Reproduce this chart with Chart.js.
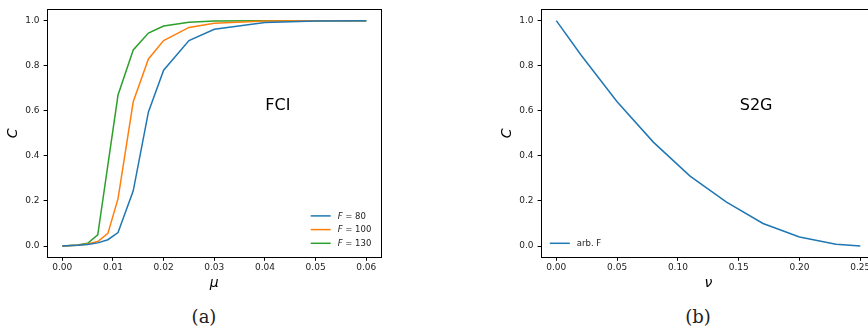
<!DOCTYPE html>
<html>
<head>
<meta charset="utf-8">
<script src="https://cdn.jsdelivr.net/npm/chart.js@4.4.1/dist/chart.umd.min.js"></script>
<style>
  html, body { margin: 0; padding: 0; background: #fff; }
  body { width: 868px; height: 332px; overflow: hidden; position: relative; }
  canvas { position: absolute; top: 0; }
  #cA { left: 0; }
  #cB { left: 494px; }
  .cap { position: absolute; top: 306px; font-family: "DejaVu Serif", serif; font-size: 18px;
         color: #222; transform: translateX(-50%); white-space: nowrap; }
</style>
</head>
<body>
<canvas id="cA" width="400" height="300"></canvas>
<canvas id="cB" width="400" height="300"></canvas>
<div class="cap" style="left:204px">(a)</div>
<div class="cap" style="left:698px">(b)</div>
<script>
// Panel (a): coverage C versus mu for three values of F
const muValues = [0, 0.003, 0.005, 0.007, 0.009, 0.011, 0.014, 0.017, 0.02, 0.025, 0.03, 0.04, 0.05, 0.06];
const cF80  = [0, 0.003, 0.007, 0.014, 0.028, 0.06, 0.245, 0.595, 0.78, 0.912, 0.962, 0.992, 0.998, 1.0];
const cF100 = [0, 0.004, 0.009, 0.02, 0.056, 0.21, 0.64, 0.83, 0.912, 0.97, 0.989, 0.999, 1.0, 1.0];
const cF130 = [0, 0.005, 0.012, 0.05, 0.36, 0.67, 0.87, 0.945, 0.976, 0.993, 0.998, 1.0, 1.0, 1.0];
const fLabels = ['80', '100', '130'];

// Panel (b): coverage C versus nu
const nuValues = [0, 0.02, 0.05, 0.08, 0.11, 0.14, 0.17, 0.2, 0.23, 0.25];
const cArb = [1.0, 0.85, 0.64, 0.46, 0.31, 0.195, 0.10, 0.04, 0.008, 0.0];

// Tick positions
const muTicks = [0, 0.01, 0.02, 0.03, 0.04, 0.05, 0.06];
const nuTicks = [0, 0.05, 0.10, 0.15, 0.20, 0.25];
const cTicks = [0, 0.2, 0.4, 0.6, 0.8, 1.0];

const colors = ['#1f77b4', '#ff7f0e', '#2ca02c'];
const SANS = '"DejaVu Sans", sans-serif';

const toPoints = (xs, ys) => xs.map((x, i) => ({ x: x, y: ys[i] }));

// Frame, inset text and legend drawn over the plot area
const framePlugin = {
  id: 'frameAndLabels',
  afterDraw(chart, args, opts) {
    const { ctx, chartArea: a } = chart;
    ctx.save();
    ctx.strokeStyle = '#000';
    ctx.lineWidth = 1;
    ctx.strokeRect(Math.round(a.left) + 0.5, Math.round(a.top) + 0.5,
                   Math.round(a.right - a.left), Math.round(a.bottom - a.top));

    // panel tag
    ctx.fillStyle = '#000';
    ctx.font = '16px ' + SANS;
    ctx.textAlign = 'center';
    ctx.textBaseline = 'middle';
    ctx.fillText(opts.tag, a.left + opts.tagX * (a.right - a.left), a.top + opts.tagY * (a.bottom - a.top));

    // legend
    ctx.textAlign = 'left';
    opts.legend.forEach((item, i) => {
      const y = a.bottom - opts.legendBottom - (opts.legend.length - 1 - i) * 13.7;
      const x0 = opts.legendRight ? a.right - opts.legendRight : a.left + opts.legendLeft;
      ctx.strokeStyle = item.color;
      ctx.lineWidth = 1.5;
      ctx.beginPath();
      ctx.moveTo(x0, y);
      ctx.lineTo(x0 + 20, y);
      ctx.stroke();
      let tx = x0 + 27;
      ctx.fillStyle = '#222';
      item.parts.forEach(p => {
        ctx.font = (p.italic ? 'italic ' : '') + '8.5px ' + SANS;
        ctx.fillText(p.text, tx, y + 0.5);
        tx += ctx.measureText(p.text).width;
      });
    });
    ctx.restore();
  }
};

function makeOptions(xMin, xMax, xTicks, xTitle, xDigits, pluginOpts) {
  return {
    responsive: false,
    animation: false,
    devicePixelRatio: 1,
    layout: { padding: { top: 8.4, right: 18.5, left: 0, bottom: 0 } },
    elements: { point: { radius: 0 }, line: { tension: 0, borderWidth: 1.5 } },
    plugins: {
      legend: { display: false },
      tooltip: { enabled: false },
      frameAndLabels: pluginOpts
    },
    scales: {
      x: {
        type: 'linear',
        min: xMin, max: xMax,
        afterBuildTicks: s => { s.ticks = xTicks.map(v => ({ value: v })); },
        afterFit: s => { s.height = 42.7; },
        ticks: {
          callback: v => Number(v).toFixed(xDigits),
          font: { family: SANS, size: 9 }, color: '#222',
          padding: 1, maxRotation: 0, autoSkip: false
        },
        grid: { drawOnChartArea: false, drawTicks: true, tickLength: 3.5, tickColor: '#000', tickWidth: 1 },
        border: { display: false },
        title: {
          display: true, text: xTitle, color: '#000',
          font: { family: SANS, size: 14, style: 'italic' },
          padding: { top: 0, bottom: 8 }
        }
      },
      y: {
        type: 'linear',
        min: -0.05, max: 1.05,
        afterBuildTicks: s => { s.ticks = cTicks.map(v => ({ value: v })); },
        afterFit: s => { s.width = 47.1; },
        ticks: {
          callback: v => Number(v).toFixed(1),
          font: { family: SANS, size: 9 }, color: '#222',
          padding: 4, autoSkip: false
        },
        grid: { drawOnChartArea: false, drawTicks: true, tickLength: 3.5, tickColor: '#000', tickWidth: 1 },
        border: { display: false },
        title: {
          display: true, text: 'C', color: '#000',
          font: { family: SANS, size: 14, style: 'italic' },
          padding: { top: 5, bottom: 0 }
        }
      }
    }
  };
}

new Chart(document.getElementById('cA'), {
  type: 'line',
  data: {
    datasets: [cF80, cF100, cF130].map((ys, i) => ({
      label: 'F = ' + fLabels[i],
      data: toPoints(muValues, ys),
      borderColor: colors[i],
      backgroundColor: colors[i],
      fill: false
    }))
  },
  options: makeOptions(-0.003, 0.063, muTicks, 'μ', 2, {
    tag: 'FCI', tagX: 0.69, tagY: 0.388,
    legendRight: 70.8, legendBottom: 14,
    legend: fLabels.map((f, i) => ({
      color: colors[i],
      parts: [{ text: 'F', italic: true }, { text: ' = ' + f }]
    }))
  }),
  plugins: [framePlugin]
});

new Chart(document.getElementById('cB'), {
  type: 'line',
  data: {
    datasets: [{
      label: 'arb. F',
      data: toPoints(nuValues, cArb),
      borderColor: colors[0],
      backgroundColor: colors[0],
      fill: false
    }]
  },
  options: makeOptions(-0.0125, 0.2625, nuTicks, 'ν', 2, {
    tag: 'S2G', tagX: 0.643, tagY: 0.388,
    legendLeft: 8.7, legendBottom: 14,
    legend: [{ color: colors[0], parts: [{ text: 'arb. F' }] }]
  }),
  plugins: [framePlugin]
});
</script>
</body>
</html>
